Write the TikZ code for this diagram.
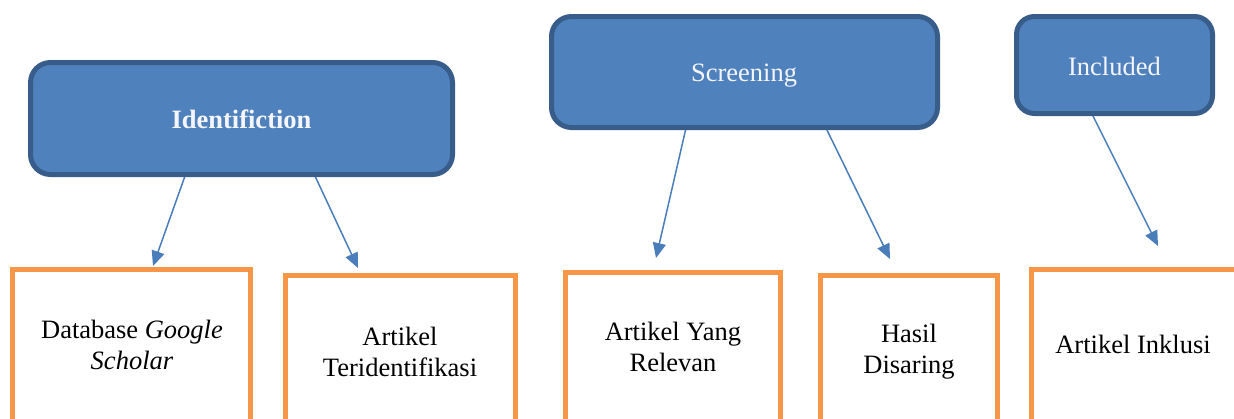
\documentclass[tikz,border=0pt]{standalone}
\usepackage{fontspec}
\setmainfont{Liberation Serif}
\usetikzlibrary{arrows.meta}
\definecolor{bfill}{HTML}{4F81BD}
\definecolor{bdraw}{HTML}{385D8A}
\definecolor{obox}{HTML}{F79646}
\definecolor{arrc}{HTML}{4A7EBB}
\tikzset{
  bluebox/.style={draw=bdraw, fill=bfill, line width=5pt, rounded corners=20pt, inner sep=0pt},
  bluelbl/.style={text=white!96!blue, font=\fontsize{26.5}{31}\selectfont, inner sep=0pt, anchor=base},
  orangebox/.style={draw=obox, line width=5pt, inner sep=0pt, anchor=north west},
  lbl/.style={font=\fontsize{26.5}{31}\selectfont, align=center, inner sep=0pt},
  arr/.style={draw=arrc, line width=1.5pt, -{Triangle[length=15pt,width=13pt]}}
}
\begin{document}
\begin{tikzpicture}[x=1pt,y=-1pt]
\useasboundingbox (0,0) rectangle (1234,418);
\clip (0,0) rectangle (1234,418);
% arrows
\coordinate (s1) at (185,176);
\coordinate (e1) at (153,266);
\coordinate (s2) at (315,176);
\coordinate (e2) at (358,268);
\coordinate (s3) at (686,128);
\coordinate (e3) at (656,258);
\coordinate (s4) at (826,128);
\coordinate (e4) at (890,259);
\coordinate (s5) at (1092,114);
\coordinate (e5) at (1158,246);
\draw[arr] (s1) -- (e1);
\draw[arr] (s2) -- (e2);
\draw[arr] (s3) -- (e3);
\draw[arr] (s4) -- (e4);
\draw[arr] (s5) -- (e5);
% blue boxes
\node[bluebox, minimum width=422pt, minimum height=112pt] (ident) at (241.5,118.5) {};
\node[bluebox, minimum width=386pt, minimum height=111pt] (scr) at (744.5,72) {};
\node[bluebox, rounded corners=18pt, minimum width=196pt, minimum height=97pt] (inc) at (1114.5,65) {};
\node[bluelbl] (identt) at (241.5,128) {\textbf{Identifiction}};
\node[bluelbl] (scrt) at (744,81) {Screening};
\node[bluelbl] (inct) at (1114.5,75) {Included};
% orange boxes
\node[orangebox, minimum width=238pt, minimum height=200pt] (b1) at (10,267) {};
\node[orangebox, minimum width=230pt, minimum height=200pt] (b2) at (283,273) {};
\node[orangebox, minimum width=215pt, minimum height=200pt] (b3) at (563,270) {};
\node[orangebox, minimum width=177pt, minimum height=200pt] (b4) at (818,273) {};
\node[orangebox, minimum width=230pt, minimum height=200pt] (b5) at (1029,267) {};
% labels
\node[lbl] (t1) at (132,345) {Database \textit{Google}\\\textit{Scholar}};
\node[lbl] (t2) at (400,352) {Artikel\\Teridentifikasi};
\node[lbl] (t3) at (673,347) {Artikel Yang\\Relevan};
\node[lbl] (t4) at (909,352) {Hasil\\Disaring};
\node[lbl] (t5) at (1133,344) {Artikel Inklusi};
\end{tikzpicture}
\end{document}
